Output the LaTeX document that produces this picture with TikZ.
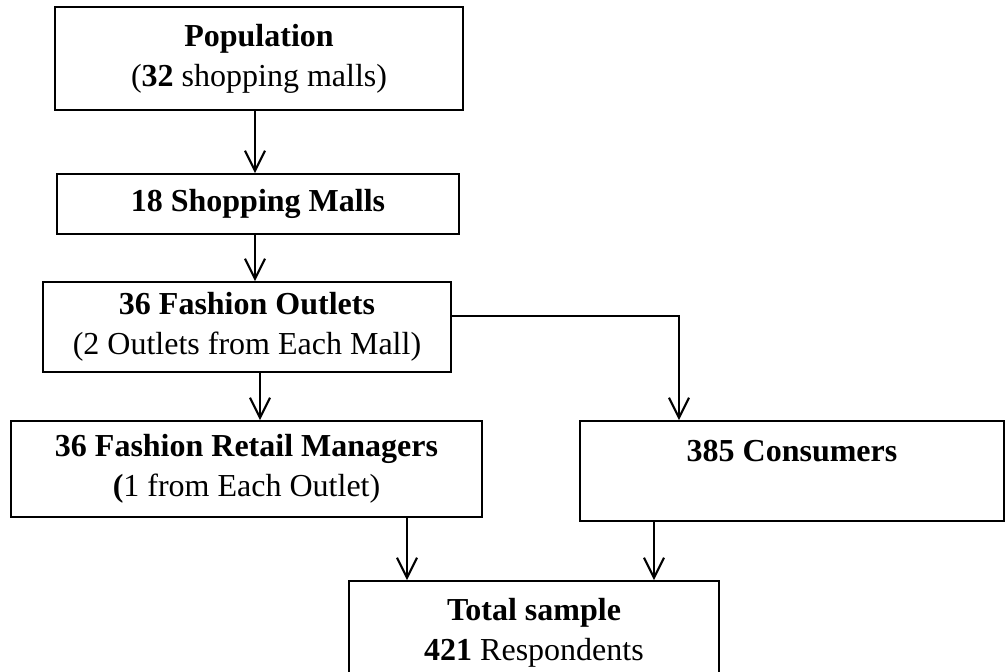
\documentclass[tikz,border=0pt]{standalone}
\usepackage{fontspec}
\setmainfont{Liberation Serif}
\usetikzlibrary{arrows.meta,positioning}

\begin{document}
\begin{tikzpicture}[x=0.5pt,y=-0.5pt,
    stagebox/.style={draw,line width=0.8pt,align=center,inner sep=0pt,font=\fontsize{16}{20}\selectfont},
    flow/.style={-{Straight Barb[length=10pt,width=10pt]},line width=1.1pt}
  ]
    \clip (0,0) rectangle (1006,672);

    % Sampling stages (left column)
    \node[stagebox,minimum width=204pt,minimum height=51.5pt] (pop) at (259,58.5) {\textbf{Population}\\(\textbf{32} shopping malls)};
    \node[stagebox,minimum width=201pt,minimum height=30pt] (malls) at (258,204) {\textbf{18 Shopping Malls}};
    \node[stagebox,minimum width=204pt,minimum height=45pt] (outlets) at (247,327) {\textbf{36 Fashion Outlets}\\(2 Outlets from Each Mall)};

    % Respondent groups
    \node[stagebox,minimum width=235.5pt,minimum height=48pt] (managers) at (246.5,469) {\textbf{36 Fashion Retail Managers}\\\textbf{(}1 from Each Outlet)};
    \node[stagebox,minimum width=212pt,minimum height=50pt] (consumers) at (792,471) {\textbf{385 Consumers}\\~};

    % Final sample
    \node[stagebox,minimum width=185pt,minimum height=51.5pt] (total) at (534,632.5) {\textbf{Total sample}\\\textbf{421} Respondents};

    % Connectors
    \draw[flow] ([xshift=-2pt]pop.south) -- ([xshift=-1.5pt]malls.north);
    \draw[flow] ([xshift=-1.5pt]malls.south) -- ([xshift=4pt]outlets.north);
    \coordinate (o2m) at ([xshift=6.5pt]outlets.south);
    \draw[flow] (o2m) -- (o2m |- managers.north);
    \draw[flow] ([yshift=5.5pt]outlets.east) -| ([xshift=-56.5pt]consumers.north);
    \coordinate (m2t) at ([xshift=80.25pt]managers.south);
    \draw[flow] (m2t) -- (m2t |- total.north);
    \coordinate (c2t) at ([xshift=-69pt]consumers.south);
    \draw[flow] (c2t) -- (c2t |- total.north);
\end{tikzpicture}
\end{document}
